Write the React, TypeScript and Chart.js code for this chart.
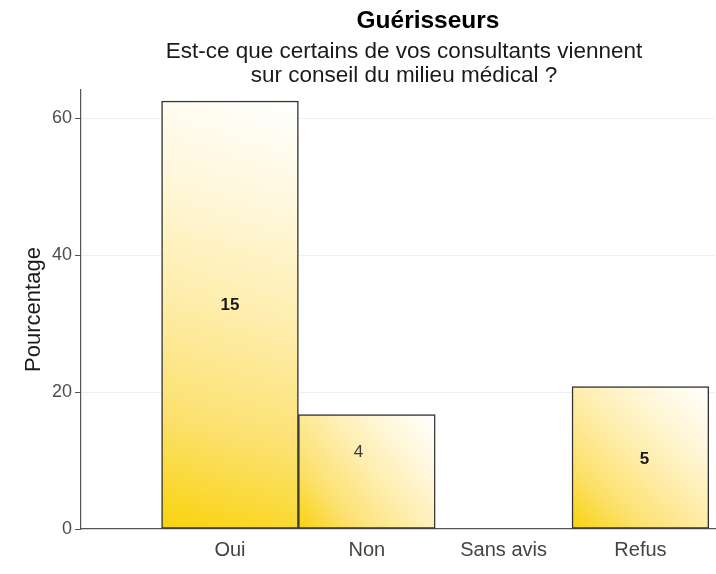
import React, { useEffect, useRef } from "react";
import { Chart, registerables } from "chart.js";

Chart.register(...registerables);

// ---- data ----
const categories = ["Oui", "Non", "Sans avis", "Refus"];
const percentages = [62.5, 16.7, 0, 20.8];
const countLabels = ["15", "4", "", "5"];
// label anchors, in data units (x = category index, y = percentage)
const labelAnchorX = [0, 0.94, 2, 3.03];
const labelAnchorY = [32.6, 11.2, 0, 10.2];
const labelBold = [true, false, false, true];
const yTickStep = 20;
const yMax = 64.1;
const xMin = -1.089;
const xMax = 3.545;
const titleText = "Guérisseurs";
const subtitleLines = [
  "Est-ce que certains de vos consultants viennent",
  "sur conseil du milieu médical ?",
];
const yAxisTitle = "Pourcentage";

const FONT = "'Liberation Sans', Arial, Helvetica, sans-serif";

const titlePlugin = {
  id: "customTitle",
  afterDraw(chart: any) {
    const ctx = chart.ctx;
    ctx.save();
    ctx.textAlign = "center";
    ctx.textBaseline = "alphabetic";
    ctx.fillStyle = "#000000";
    ctx.font = `bold 24.5px ${FONT}`;
    ctx.fillText(titleText, 428, 28);
    ctx.fillStyle = "#1a1a1a";
    ctx.font = `22.5px ${FONT}`;
    ctx.fillText(subtitleLines[0], 404, 58);
    ctx.fillText(subtitleLines[1], 404, 82);
    ctx.restore();
  },
};

const barLabelPlugin = {
  id: "barLabels",
  afterDatasetsDraw(chart: any) {
    const ctx = chart.ctx;
    const xs = chart.scales.x;
    const ys = chart.scales.y;
    ctx.save();
    ctx.textAlign = "center";
    ctx.textBaseline = "middle";
    countLabels.forEach((t, i) => {
      if (!t) return;
      ctx.fillStyle = labelBold[i] ? "#1a1a1a" : "#3a3a3a";
      ctx.font = `${labelBold[i] ? "bold " : ""}17px ${FONT}`;
      ctx.fillText(t, xs.getPixelForValue(labelAnchorX[i]), ys.getPixelForValue(labelAnchorY[i]));
    });
    ctx.restore();
  },
};

const gradientPlugin = {
  id: "barGradient",
  beforeDatasetsDraw(chart: any) {
    const ctx = chart.ctx;
    const meta = chart.getDatasetMeta(0);
    meta.data.forEach((bar: any) => {
      const { x, y, base, width } = bar.getProps(["x", "y", "base", "width"], true);
      if (![x, y, base, width].every((v) => Number.isFinite(v))) return;
      const g = ctx.createLinearGradient(x - width / 2, base, x + width / 2, y);
      g.addColorStop(0, "#F9D30C");
      g.addColorStop(0.25, "#FCE170");
      g.addColorStop(0.5, "#FEEDAA");
      g.addColorStop(0.75, "#FFF7DA");
      g.addColorStop(1, "#FFFFFF");
      bar.options.backgroundColor = g;
    });
  },
};

export default function App() {
  const ref = useRef<HTMLCanvasElement>(null);

  useEffect(() => {
    if (!ref.current) return;
    const chart = new Chart(ref.current, {
      type: "bar",
      data: {
        datasets: [
          {
            data: percentages.map((v, i) => ({ x: i, y: v })),
            // scriptable so every bar gets its own options object (gradient set in plugin)
            backgroundColor: (_c: any) => "#F9D30C",
            borderColor: "#333333",
            borderWidth: 1.5,
            borderSkipped: false,
            barPercentage: 1,
            categoryPercentage: 1,
          } as any,
        ],
      },
      options: {
        responsive: false,
        animation: false,
        devicePixelRatio: 1,
        layout: { padding: { top: 90, left: 0, right: 1, bottom: 0 } },
        plugins: {
          legend: { display: false },
          tooltip: { enabled: false },
          title: { display: false },
        },
        scales: {
          x: {
            type: "linear",
            min: xMin,
            max: xMax,
            offset: false,
            afterBuildTicks: (s: any) => {
              s.ticks = categories.map((_, i) => ({ value: i }));
            },
            afterFit: (s: any) => {
              s.height = 45;
            },
            grid: { display: true, color: "rgba(0,0,0,0)", drawTicks: false, offset: false },
            border: { display: true, color: "#555555", width: 1.2 },
            ticks: {
              callback: (v: any) => categories[v] ?? "",
              font: { family: FONT, size: 20 },
              color: "#444444",
              padding: 9,
              maxRotation: 0,
              autoSkip: false,
            },
          } as any,
          y: {
            min: 0,
            max: yMax,
            afterFit: (s: any) => {
              s.width = 81;
            },
            ticks: {
              stepSize: yTickStep,
              includeBounds: false,
              font: { family: FONT, size: 18 },
              color: "#4d4d4d",
              padding: 3,
            },
            grid: {
              color: (c: any) => (c.tick && c.tick.value === 0 ? "rgba(0,0,0,0)" : "#EBF1F2"),
              tickColor: "#555555",
              tickLength: 6,
              lineWidth: 1,
            },
            border: { display: true, color: "#555555", width: 1.2 },
            title: {
              display: true,
              text: yAxisTitle,
              font: { family: FONT, size: 22 },
              color: "#1a1a1a",
              padding: { top: 21, bottom: 0 },
            },
          } as any,
        },
      },
      plugins: [gradientPlugin, titlePlugin, barLabelPlugin],
    });
    return () => chart.destroy();
  }, []);

  return (
    <div style={{ position: "absolute", left: 0, top: 0, width: 716, height: 574, background: "#ffffff" }}>
      <canvas ref={ref} width={716} height={574} style={{ display: "block", width: 716, height: 574 }} />
    </div>
  );
}
